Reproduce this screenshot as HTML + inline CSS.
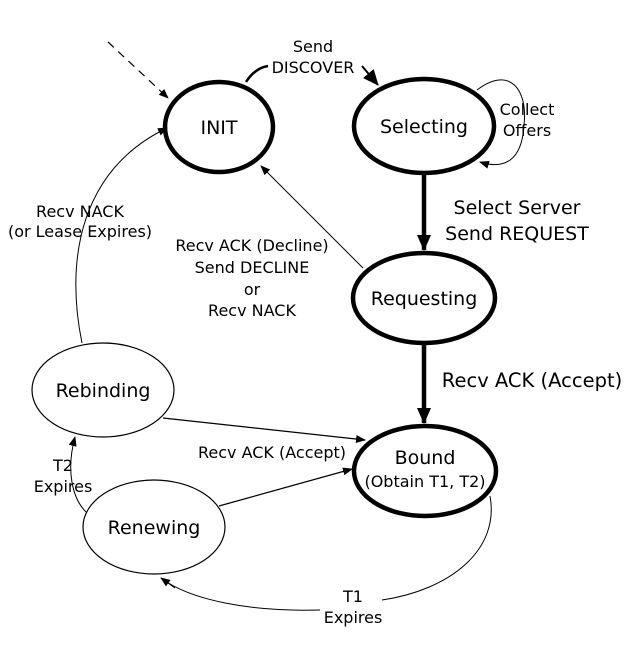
<!DOCTYPE html>
<html><head><style>
body{margin:0;background:#fff}
svg{display:block}
text{font-family:"DejaVu Sans","Liberation Sans",sans-serif;fill:#000}
</style></head><body>
<svg width="636" height="648" viewBox="0 0 636 648" xmlns="http://www.w3.org/2000/svg">
<defs>
<marker id="a" markerWidth="10" markerHeight="8" refX="9" refY="4" orient="auto" markerUnits="userSpaceOnUse"><path d="M0,0 L10,4 L0,8 z"/></marker>
<marker id="b" markerWidth="16" markerHeight="14" refX="15" refY="7" orient="auto" markerUnits="userSpaceOnUse"><path d="M0,0 L16,7 L0,14 z"/></marker>
</defs>
<g fill="none" stroke="#000">
<ellipse cx="219" cy="127" rx="54" ry="45" stroke-width="4.5"/>
<ellipse cx="424" cy="126" rx="70" ry="47" stroke-width="4.5"/>
<ellipse cx="424" cy="298" rx="71" ry="45" stroke-width="4.5"/>
<ellipse cx="425" cy="471" rx="71" ry="45" stroke-width="4.5"/>
<ellipse cx="103" cy="390" rx="71" ry="47" stroke-width="1.2"/>
<ellipse cx="154" cy="527" rx="71" ry="47" stroke-width="1.2"/>
<path d="M108,42 L168,98" stroke-width="1.2" stroke-dasharray="8,6" marker-end="url(#a)"/>
<path d="M246,82 Q255,68 268,66" stroke-width="2.5"/>
<path d="M362,66 L378,85" stroke-width="2" marker-end="url(#b)"/>
<path d="M477,90 C510,65 528,90 524,125 C522,160 505,170 480,162" stroke-width="1" marker-end="url(#a)"/>
<path d="M424,174 L424,250" stroke-width="4.5" marker-end="url(#b)"/>
<path d="M424,345 L424,423" stroke-width="4.5" marker-end="url(#b)"/>
<path d="M82,343 C65,260 80,170 167,128" stroke-width="1" marker-end="url(#a)"/>
<path d="M363,268 L261,166" stroke-width="1" marker-end="url(#a)"/>
<path d="M163,418 L365,440" stroke-width="1.2" marker-end="url(#a)"/>
<path d="M219,506 L352,469" stroke-width="1.2" marker-end="url(#a)"/>
<path d="M86,512 C72,498 66,470 75,437" stroke-width="1" marker-end="url(#a)"/>
<path d="M490,496 C500,550 450,590 382,600 M320,610 C250,612 190,600 161,578" stroke-width="1"/>
<path d="M175,588 L161,578" stroke-width="1" marker-end="url(#a)"/>
</g>
<g font-size="19" text-anchor="middle">
<text x="219" y="134">INIT</text>
<text x="424" y="133">Selecting</text>
<text x="424" y="305">Requesting</text>
<text x="425" y="464">Bound</text>
<text x="103" y="397">Rebinding</text>
<text x="154" y="534">Renewing</text>
</g>
<g font-size="16" text-anchor="middle">
<text x="313" y="52">Send</text>
<text x="313" y="73">DISCOVER</text>
<text x="527" y="115">Collect</text>
<text x="527" y="136">Offers</text>
<text x="80" y="217">Recv NACK</text>
<text x="80" y="237">(or Lease Expires)</text>
<text x="252" y="251">Recv ACK (Decline)</text>
<text x="252" y="273">Send DECLINE</text>
<text x="252" y="295">or</text>
<text x="252" y="316">Recv NACK</text>
<text x="272" y="458">Recv ACK (Accept)</text>
<text x="425" y="487">(Obtain T1, T2)</text>
<text x="63" y="471">T2</text>
<text x="63" y="492">Expires</text>
<text x="353" y="602">T1</text>
<text x="353" y="623">Expires</text>
</g>
<g font-size="19" text-anchor="middle">
<text x="517" y="214">Select Server</text>
<text x="517" y="240">Send REQUEST</text>
</g>
<text x="532" y="387" font-size="19.5" text-anchor="middle">Recv ACK (Accept)</text>
</svg>
</body></html>
